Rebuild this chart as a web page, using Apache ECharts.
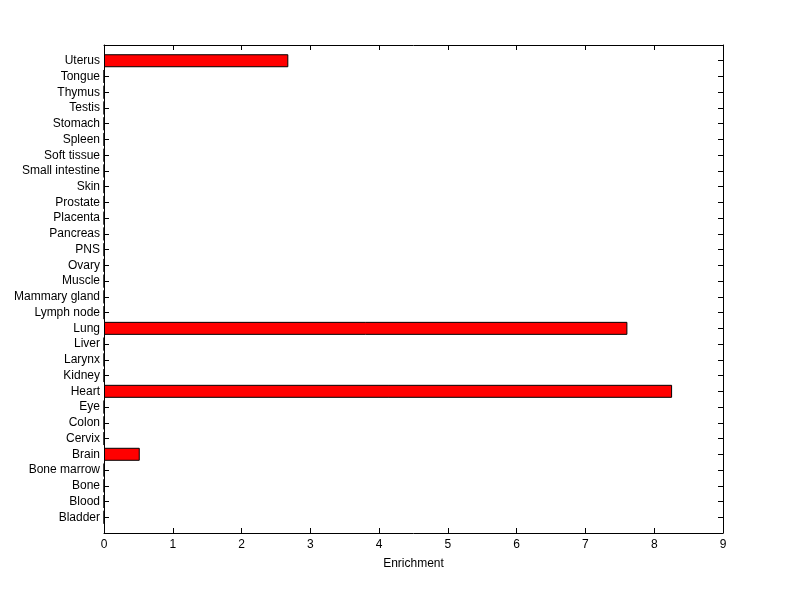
<!DOCTYPE html>
<html>
<head>
<meta charset="utf-8">
<script src="https://cdn.jsdelivr.net/npm/echarts@6/dist/echarts.min.js"></script>
<style>
  html, body { margin: 0; padding: 0; background: #fff; }
  #main { width: 800px; height: 599px; }
</style>
</head>
<body>
<div id="main"></div>
<script>
// tissues, bottom to top as on the y axis
var tissues = ['Bladder', 'Blood', 'Bone', 'Bone marrow', 'Brain', 'Cervix', 'Colon', 'Eye',
  'Heart', 'Kidney', 'Larynx', 'Liver', 'Lung', 'Lymph node', 'Mammary gland', 'Muscle',
  'Ovary', 'PNS', 'Pancreas', 'Placenta', 'Prostate', 'Skin', 'Small intestine',
  'Soft tissue', 'Spleen', 'Stomach', 'Testis', 'Thymus', 'Tongue', 'Uterus'];
var enrichment = [0, 0, 0, 0, 0.52, 0, 0, 0,
  8.26, 0, 0, 0, 7.61, 0, 0, 0,
  0, 0, 0, 0, 0, 0, 0,
  0, 0, 0, 0, 0, 0, 2.68];
var xTicks = [0, 1, 2, 3, 4, 5, 6, 7, 8, 9];

// empty slots at both ends so the axis runs 0..31 like the original
var cats = [''].concat(tissues).concat(['']);
var vals = ['-'].concat(enrichment).concat(['-']);

var myChart = echarts.init(document.getElementById('main'));
var font = 'Liberation Sans, Arial, sans-serif';

var yBase = {
  type: 'category',
  data: cats,
  boundaryGap: false,
  axisLine: { show: true, onZero: false, lineStyle: { color: '#000', width: 1 } },
  axisTick: { show: true, inside: true, length: 5, interval: 0, lineStyle: { color: '#000' } },
  splitLine: { show: false }
};
var xBase = {
  type: 'value',
  min: xTicks[0],
  max: xTicks[xTicks.length - 1],
  interval: 1,
  axisLine: { show: true, onZero: false, lineStyle: { color: '#000', width: 1 } },
  axisTick: { show: true, inside: true, length: 5, lineStyle: { color: '#000' } },
  splitLine: { show: false }
};

var option = {
  backgroundColor: '#fff',
  animation: false,
  grid: { left: 104, right: 77, top: 45, bottom: 66, containLabel: false },
  xAxis: [
    Object.assign({}, xBase, {
      position: 'bottom',
      name: 'Enrichment',
      nameLocation: 'middle',
      nameGap: 25,
      nameTextStyle: { color: '#000', fontFamily: font, fontSize: 12 },
      axisLabel: { color: '#000', fontFamily: font, fontSize: 12, margin: 6 }
    }),
    Object.assign({}, xBase, {
      position: 'top',
      axisLabel: { show: false }
    })
  ],
  yAxis: [
    Object.assign({}, yBase, {
      position: 'left',
      axisLabel: { color: '#000', fontFamily: font, fontSize: 12, margin: 4, interval: 0 }
    }),
    Object.assign({}, yBase, {
      position: 'right',
      axisLabel: { show: false }
    })
  ],
  series: [{
    type: 'bar',
    xAxisIndex: 0,
    yAxisIndex: 0,
    data: vals,
    barWidth: 13,
    itemStyle: { color: '#ff0000', borderColor: '#000', borderWidth: 1 }
  }]
};
myChart.setOption(option);
</script>
</body>
</html>
